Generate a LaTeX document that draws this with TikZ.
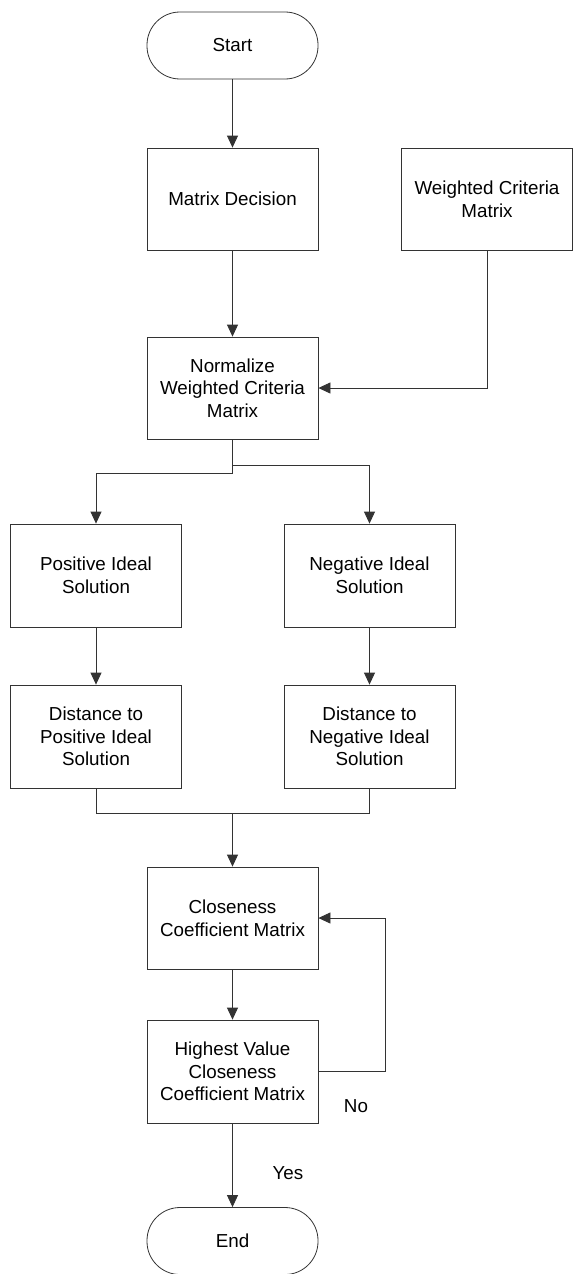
\documentclass[tikz,border=0pt]{standalone}
\usepackage{fontspec}
\setmainfont{Liberation Sans}
\usetikzlibrary{arrows.meta}

\begin{document}
\begin{tikzpicture}
            [
            x=1pt,y=-1pt,
            box/.style={draw=black!80,line width=.8pt,minimum width=171pt,
                minimum height=102pt,align=center,inner sep=0pt,
                font={\fontsize{18.8}{22.7}\selectfont}},
            terminal/.style={box,minimum height=67pt,rounded corners=33pt},
            flow/.style={draw=black!80,line width=.8pt,
                -{Triangle[length=12pt,width=11pt]}},
            line/.style={draw=black!80,line width=.8pt},
            answer/.style={font={\fontsize{18.8}{22.7}\selectfont}},
            ]
            \useasboundingbox (0,0) rectangle (573,1274);

            % Terminals
            \node[terminal] (start) at (232.5,45.5) {Start};
            \node[terminal] (end) at (232.5,1241) {End};

            % Steps
            \node[box] (decision) at (232.5,199) {Matrix Decision};
            \node[box] (weights) at (487,199) {Weighted Criteria\\Matrix};
            \node[box] (normal) at (232.5,388) {Normalize\\Weighted Criteria\\Matrix};
            \node[box,minimum height=103pt] (posideal) at (96,575.5) {Positive Ideal\\Solution};
            \node[box,minimum height=103pt] (negideal) at (369.5,575.5) {Negative Ideal\\Solution};
            \node[box,minimum height=103pt] (posdist) at (96,736.5) {Distance to\\Positive Ideal\\Solution};
            \node[box,minimum height=103pt] (negdist) at (369.5,736.5) {Distance to\\Negative Ideal\\Solution};
            \node[box] (closeness) at (232.5,918) {Closeness\\Coefficient Matrix};
            \node[box,minimum height=103pt] (highest) at (232.5,1071.5) {Highest Value\\Closeness\\Coefficient Matrix};
            \coordinate (merge) at (232.5,813);

            % Flow
            \draw[flow] (start) -- (decision);
            \draw[flow] (decision) -- (normal);
            \draw[flow] (weights.south) |- (normal.east);
            \draw[flow] (normal.south) -- ++(0,34) -| (posideal.north);
            \draw[flow] (normal.south) -- ++(0,26) -| (negideal.north);
            \draw[flow] (posideal) -- (posdist);
            \draw[flow] (negideal) -- (negdist);
            \draw[line] (posdist.south) |- (merge);
            \draw[line] (negdist.south) |- (merge);
            \draw[flow] (merge) -- (closeness);
            \draw[flow] (closeness) -- (highest);

            % Decision
            \draw[flow] (highest.east) -- ++(67,0) |- (closeness.east);
            \node[answer] (no) at (356,1106) {No};
            \draw[flow] (highest) -- (end);
            \node[answer] (yes) at (288,1173) {Yes};

        \end{tikzpicture}
\end{document}
